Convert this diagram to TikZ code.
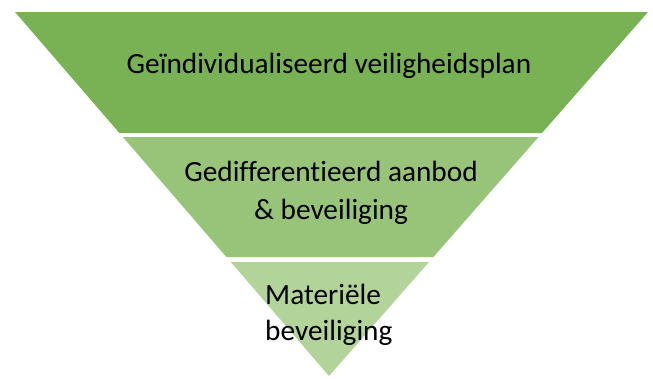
\documentclass[tikz,border=0pt]{standalone}
\usepackage{fontspec}
\setmainfont[Ligatures=NoCommon]{Carlito}
\definecolor{bandA}{RGB}{120,178,85}
\definecolor{bandB}{RGB}{152,196,122}
\definecolor{bandC}{RGB}{178,212,155}
\tikzset{
  lbl/.style={inner sep=0pt, text=black, font=\fontsize{29.3}{38}\selectfont},
}
\begin{document}
\begin{tikzpicture}[x=1pt,y=-1pt]
\useasboundingbox (0,0) rectangle (653,378);
\fill[bandA] (15,12) -- (648,12) -- (542,133) -- (119.4,133) -- cycle;
\fill[bandB] (122.9,137) -- (538.5,137) -- (433.4,257) -- (226.4,257) -- cycle;
\fill[bandC] (230.8,262) -- (429,262) -- (329,376) -- cycle;
\node[lbl, anchor=base] (t1) at (329,73) {Geïndividualiseerd veiligheidsplan};
\node[lbl, anchor=base, align=center] (t2) at (331,219) {Gedifferentieerd aanbod\\\& beveiliging};
\node[lbl, anchor=base west, align=left, font=\fontsize{29.3}{36}\selectfont] (t3) at (265,340) {Materiële\\beveiliging};
\end{tikzpicture}
\end{document}
